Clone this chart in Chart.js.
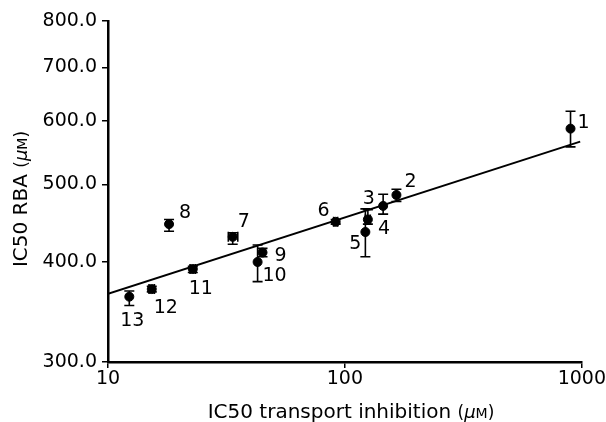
<!DOCTYPE html>
<html>
<head>
<meta charset="utf-8">
<script src="https://cdn.jsdelivr.net/npm/chart.js@4.4.0/dist/chart.umd.min.js"></script>
<style>
  html, body { margin: 0; padding: 0; background: #fff; }
  canvas { display: block; }
</style>
</head>
<body>
<canvas id="chart" width="606" height="422"></canvas>
<script>
// compounds, IC50 values (uM)
const compounds = ['1', '2', '3', '4', '5', '6', '7', '8', '9', '10', '11', '12', '13'];
const transportIC50 = [896, 165, 125, 145, 122, 91.4, 33.6, 18.1, 44.9, 42.8, 22.8, 15.3, 12.3];
const transportLow  = [null, null, 122, null, null, 89.6, 32.2, null, null, null, 22.2, 14.9, null];
const transportHigh = [null, null, 128, null, null, 93.2, 35.3, null, null, null, 23.4, 15.7, null];
const rbaIC50 = [587, 485, 452, 470, 436, 449, 430, 446, 411, 400, 392, 370, 362];
const rbaLow  = [557, 476, 446, 459, 406, 446, 421, 437, 406, 378, 388, 367, 353];
const rbaHigh = [617, 493, 465, 486, 466, 452, 435, 452, 416, 420, 395, 373, 368];

// regression line
const fitX = [10, 984];
const fitY = [365, 565.5];

const xTicks = [10, 100, 1000];
const yTicks = [300, 400, 500, 600, 700, 800];

// where each number sits relative to its point (px)
const labelOffsets = [[13, -6], [14, -13], [1, -20], [1, 23], [-10, 12], [-12, -11], [11, -15],
  [16, -11], [18, 4], [17, 14], [8, 20], [14, 19], [3, 24]];

const FONT = "'DejaVu Sans', sans-serif";

const errorBars = {
  id: 'errorBars',
  afterDatasetsDraw(chart) {
    const { ctx, scales: { x, y } } = chart;
    const cap = 5;
    ctx.save();
    ctx.strokeStyle = '#000';
    ctx.lineWidth = 1.6;
    compounds.forEach((c, i) => {
      const px = x.getPixelForValue(transportIC50[i]);
      const py = y.getPixelForValue(rbaIC50[i]);
      const top = y.getPixelForValue(rbaHigh[i]);
      const bot = y.getPixelForValue(rbaLow[i]);
      ctx.beginPath();
      ctx.moveTo(px, top); ctx.lineTo(px, bot);
      ctx.moveTo(px - cap, top); ctx.lineTo(px + cap, top);
      ctx.moveTo(px - cap, bot); ctx.lineTo(px + cap, bot);
      if (transportLow[i] != null) {
        const l = x.getPixelForValue(transportLow[i]);
        const r = x.getPixelForValue(transportHigh[i]);
        ctx.moveTo(l, py); ctx.lineTo(r, py);
        ctx.moveTo(l, py - cap); ctx.lineTo(l, py + cap);
        ctx.moveTo(r, py - cap); ctx.lineTo(r, py + cap);
      }
      ctx.stroke();
    });
    ctx.restore();
  }
};

const pointLabels = {
  id: 'pointLabels',
  afterDatasetsDraw(chart) {
    const { ctx, scales: { x, y } } = chart;
    ctx.save();
    ctx.fillStyle = '#000';
    ctx.font = '19px ' + FONT;
    ctx.textAlign = 'center';
    ctx.textBaseline = 'middle';
    compounds.forEach((c, i) => {
      const px = x.getPixelForValue(transportIC50[i]);
      const py = y.getPixelForValue(rbaIC50[i]);
      ctx.fillText(c, px + labelOffsets[i][0], py + labelOffsets[i][1]);
    });
    ctx.restore();
  }
};

// titles have a smaller "(uM)" part, so draw them by hand
function drawPieces(ctx, pieces, cx, cy) {
  let total = 0;
  pieces.forEach(p => {
    ctx.font = (p.style || 'normal') + ' ' + p.size + 'px ' + FONT;
    p.w = ctx.measureText(p.text).width;
    total += p.w;
  });
  let xPos = cx - total / 2;
  pieces.forEach(p => {
    ctx.font = (p.style || 'normal') + ' ' + p.size + 'px ' + FONT;
    ctx.fillText(p.text, xPos, cy);
    xPos += p.w;
  });
}

function unitPieces(main) {
  return [
    { text: main + ' ', size: 20 },
    { text: '(', size: 17 },
    { text: 'μ', size: 18, style: 'italic' },
    { text: 'M', size: 14 },
    { text: ')', size: 17 }
  ];
}

const axisTitles = {
  id: 'axisTitles',
  afterDraw(chart) {
    const { ctx } = chart;
    ctx.save();
    ctx.fillStyle = '#000';
    ctx.textAlign = 'left';
    ctx.textBaseline = 'alphabetic';
    drawPieces(ctx, unitPieces('IC50 transport inhibition'), 351, 418);
    ctx.translate(27, 199);
    ctx.rotate(-Math.PI / 2);
    drawPieces(ctx, unitPieces('IC50 RBA'), 0, 0);
    ctx.restore();
  }
};

const tickStyle = { color: '#000', font: { family: FONT, size: 19 } };

new Chart(document.getElementById('chart'), {
  data: {
    datasets: [
      {
        type: 'scatter',
        data: transportIC50.map((v, i) => ({ x: v, y: rbaIC50[i] })),
        backgroundColor: '#000',
        borderColor: '#000',
        pointRadius: 4.5,
        pointHoverRadius: 4.5
      },
      {
        type: 'line',
        data: fitX.map((v, i) => ({ x: v, y: fitY[i] })),
        borderColor: '#000',
        borderWidth: 2,
        pointRadius: 0,
        fill: false
      }
    ]
  },
  options: {
    responsive: false,
    animation: false,
    devicePixelRatio: 1,
    layout: { padding: { left: 0, right: 24, top: 21, bottom: 0 } },
    plugins: { legend: { display: false }, tooltip: { enabled: false } },
    scales: {
      x: {
        type: 'logarithmic',
        min: 10,
        max: 1000,
        afterBuildTicks: (scale) => { scale.ticks = xTicks.map(v => ({ value: v })); },
        afterFit: (scale) => { scale.height = 60; },
        ticks: { ...tickStyle, padding: 0, autoSkip: false, maxRotation: 0, callback: (v) => String(v) },
        grid: { drawOnChartArea: false, color: '#000', lineWidth: 1.5, tickLength: 6 },
        border: { color: '#000', width: 2.5 }
      },
      y: {
        type: 'logarithmic',
        min: 300,
        max: 800,
        afterBuildTicks: (scale) => { scale.ticks = yTicks.map(v => ({ value: v })); },
        afterFit: (scale) => { scale.width = 108; },
        ticks: { ...tickStyle, padding: 5, autoSkip: false, callback: (v) => Number(v).toFixed(1) },
        grid: { drawOnChartArea: false, color: '#000', lineWidth: 1.5, tickLength: 6 },
        border: { color: '#000', width: 2.5 }
      }
    }
  },
  plugins: [errorBars, pointLabels, axisTitles]
});
</script>
</body>
</html>
